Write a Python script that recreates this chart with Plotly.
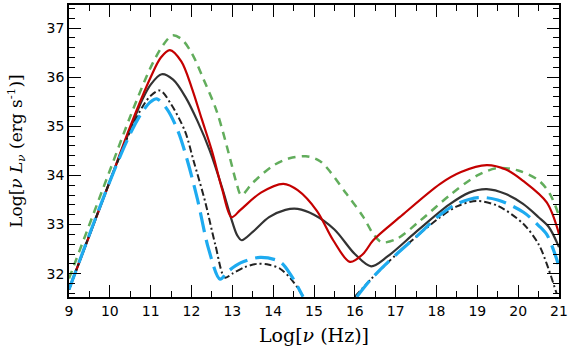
import plotly.graph_objects as go

# ---- data (log nu [Hz], log nuLnu [erg/s]) ----
black_x = [9.0, 10.0, 10.5, 10.8, 11.0, 11.27, 11.55, 11.85, 12.15, 12.45, 12.75, 13.0, 13.12, 13.23, 13.5, 13.9, 14.3, 14.6, 15.0, 15.5, 16.0, 16.4, 16.8, 17.5, 18.3, 18.8, 19.23, 19.7, 20.12, 20.5, 20.75, 21.0]
black_y = [31.68, 33.88, 34.95, 35.55, 35.85, 36.06, 35.95, 35.6, 35.1, 34.5, 33.75, 33.05, 32.78, 32.68, 32.85, 33.15, 33.3, 33.32, 33.2, 32.9, 32.4, 32.15, 32.35, 32.85, 33.4, 33.65, 33.72, 33.62, 33.42, 33.15, 32.95, 32.54]

red_x = [9.0, 10.0, 10.5, 11.0, 11.25, 11.47, 11.75, 12.0, 12.25, 12.5, 12.75, 12.98, 13.2, 13.7, 14.25, 14.6, 15.07, 15.47, 15.88, 16.2, 16.45, 17.1, 18.09, 18.6, 19.23, 19.7, 20.12, 20.7, 21.0]
red_y = [31.68, 33.88, 35.0, 36.0, 36.4, 36.55, 36.32, 35.8, 35.15, 34.5, 33.72, 33.15, 33.3, 33.65, 33.83, 33.7, 33.28, 32.68, 32.24, 32.4, 32.68, 33.15, 33.83, 34.07, 34.21, 34.12, 33.89, 33.45, 32.81]

green_x = [9.0, 10.0, 10.5, 11.0, 11.3, 11.53, 11.75, 12.0, 12.3, 12.62, 12.94, 13.1, 13.22, 13.5, 14.0, 14.4, 14.8, 15.15, 15.8, 16.21, 16.45, 16.66, 17.03, 17.6, 18.33, 19.0, 19.5, 20.0, 20.5, 20.78, 21.0]
green_y = [31.9, 34.1, 35.2, 36.2, 36.65, 36.85, 36.78, 36.5, 35.95, 35.3, 34.36, 33.85, 33.6, 33.85, 34.2, 34.35, 34.39, 34.29, 33.62, 33.15, 32.81, 32.64, 32.71, 33.08, 33.6, 34.0, 34.15, 34.1, 33.9, 33.62, 33.18]

dashdot_x = [9.0, 10.0, 10.5, 10.8, 11.0, 11.23, 11.5, 11.84, 12.05, 12.33, 12.58, 12.82, 13.0, 13.3, 13.6, 13.9, 14.17, 14.45, 14.74, None, 16.0, 16.41, 17.0, 17.5, 18.09, 18.5, 18.98, 19.5, 20.13, 20.5, 20.7, 20.94]
dashdot_y = [31.68, 33.88, 34.9, 35.4, 35.62, 35.73, 35.45, 34.9, 34.3, 33.48, 32.6, 31.92, 32.0, 32.13, 32.2, 32.18, 32.1, 31.88, 31.53, None, 31.53, 31.9, 32.38, 32.75, 33.15, 33.37, 33.48, 33.38, 33.01, 32.6, 32.2, 31.6]

blue_x = [9.0, 10.0, 10.5, 10.8, 11.0, 11.15, 11.4, 11.67, 11.9, 12.15, 12.42, 12.7, 12.9, 13.2, 13.68, 14.17, 14.45, 14.73, None, 16.05, 16.41, 17.0, 17.5, 18.09, 18.5, 19.02, 19.5, 20.13, 20.5, 20.7, 20.9, 21.0]
blue_y = [31.68, 33.88, 34.85, 35.3, 35.5, 35.56, 35.35, 34.9, 34.3, 33.5, 32.5, 31.89, 32.05, 32.22, 32.33, 32.24, 31.95, 31.53, None, 31.53, 31.9, 32.38, 32.75, 33.2, 33.42, 33.55, 33.5, 33.25, 32.98, 32.8, 32.4, 32.14]

x_range = [9, 21]
y_range = [31.525, 37.47]

fig = go.Figure()

def add(x, y, color, width, dash):
    fig.add_trace(go.Scatter(
        x=x, y=y, mode="lines", connectgaps=False,
        line=dict(color=color, width=width, dash=dash, shape="spline", smoothing=0.9),
        hoverinfo="skip", showlegend=False))

add(green_x, green_y, "#62ad5c", 2.5, "8px,6px")
add(black_x, black_y, "#333333", 2.2, "solid")
add(red_x, red_y, "#c40000", 2.2, "solid")
add(dashdot_x, dashdot_y, "#222222", 2.0, "7px,3px,2px,3px")
add(blue_x, blue_y, "#1eabf0", 3.2, "20px,8px")

tick_font = dict(family="DejaVu Sans, Arial, sans-serif", size=14, color="black")

axis_common = dict(
    showline=True, linecolor="black", linewidth=1.5, mirror="ticks",
    ticks="inside", ticklen=12, tickwidth=1.3, tickcolor="black",
    showgrid=False, zeroline=False, tickfont=tick_font,
)

fig.update_xaxes(
    range=x_range, dtick=1, tick0=9,
    minor=dict(dtick=0.5, ticks="inside", ticklen=6, tickwidth=1.3, tickcolor="black"),
    title=dict(text="Log[<i>ν</i> (Hz)]", standoff=11,
               font=dict(family="DejaVu Serif, Liberation Serif, serif", size=19, color="black")),
    **axis_common)
fig.update_yaxes(
    range=y_range, dtick=1, tick0=32,
    minor=dict(dtick=0.2, ticks="inside", ticklen=6, tickwidth=1.3, tickcolor="black"),
    title=dict(text="Log[<i>ν L<sub>ν</sub></i> (erg s<sup>-1</sup>)]", standoff=20,
               font=dict(family="DejaVu Serif, Liberation Serif, serif", size=17, color="black")),
    ticklabelstandoff=0,
    **axis_common)

fig.update_layout(
    width=571, height=354,
    margin=dict(l=69, r=12, t=3, b=57),
    paper_bgcolor="white", plot_bgcolor="white",
)

fig.write_html("out.html", config={"displayModeBar": False},
               post_script="document.body.style.margin='0';document.body.style.overflow='hidden';")
